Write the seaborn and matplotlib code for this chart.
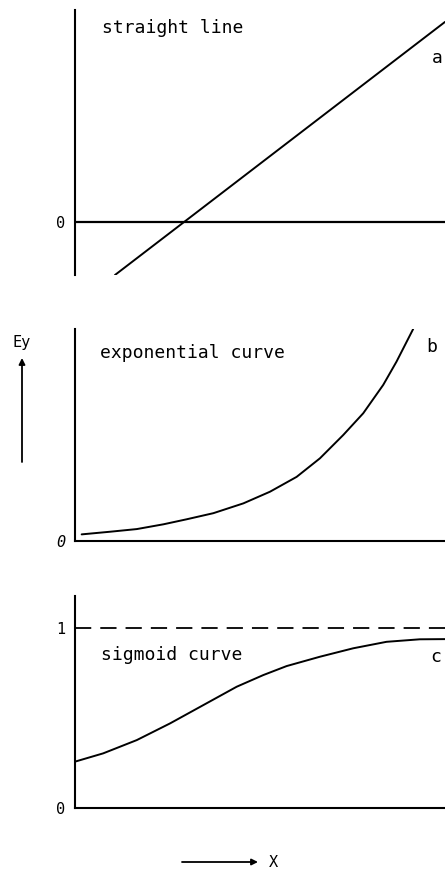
import pandas as pd
import seaborn as sns
import matplotlib
matplotlib.use("Agg")
import matplotlib.pyplot as plt

# a: straight line
line_x = [1.08, 10.0]
line_y = [-2.0, 7.55]

# b: exponential curve
exp_x = [0.18, 0.95, 1.67, 2.39, 3.02, 3.74, 4.55, 5.27, 5.99, 6.62, 7.25, 7.79, 8.33, 8.69, 9.14]
exp_y = [0.25, 0.35, 0.45, 0.63, 0.82, 1.05, 1.42, 1.86, 2.42, 3.12, 4.00, 4.82, 5.89, 6.77, 8.0]

# c: sigmoid curve
sig_x = [0.0, 0.76, 1.67, 2.57, 3.47, 4.37, 5.09, 5.72, 6.62, 7.52, 8.42, 9.32, 10.0]
sig_y = [0.258, 0.304, 0.378, 0.471, 0.573, 0.675, 0.740, 0.790, 0.842, 0.889, 0.925, 0.939, 0.940]

panel_labels = ["straight line", "exponential curve", "sigmoid curve"]
panel_letters = ["a", "b", "c"]

sns.set_style("white")
plt.rcParams["font.family"] = ["DejaVu Sans Mono"]
plt.rcParams["text.color"] = "black"
plt.rcParams["ytick.color"] = "black"
plt.rcParams["ytick.labelcolor"] = "black"

W, H = 445, 872
fig = plt.figure(figsize=(W / 100, H / 100), dpi=100)


def make_axes(top, bottom, left=75, right=445):
    return fig.add_axes([left / W, 1 - bottom / H, (right - left) / W, (bottom - top) / H])


def style_axes(ax, show_bottom):
    for side in ["top", "right"]:
        ax.spines[side].set_visible(False)
    ax.spines["bottom"].set_visible(show_bottom)
    for side in ["left", "bottom"]:
        ax.spines[side].set_linewidth(1.5)
        ax.spines[side].set_color("black")
    ax.set_xticks([])
    ax.tick_params(axis="y", length=0, pad=7, labelsize=11, labelcolor="black")
    ax.set_xlabel("")
    ax.set_ylabel("")
    ax.set_xlim(0, 10)


# Panel a
ax_a = make_axes(10, 275)
sns.lineplot(x=line_x, y=line_y, ax=ax_a, color="black", lw=1.4, estimator=None)
ax_a.axhline(0, color="black", lw=1.6)
ax_a.set_ylim(-2, 8)
style_axes(ax_a, False)
ax_a.set_yticks([0])
ax_a.set_yticklabels(["0"])
ax_a.text(0.73, 7.32, panel_labels[0], fontsize=13, va="center", ha="left")
ax_a.text(9.78, 6.19, panel_letters[0], fontsize=13, va="center", ha="center")

# Panel b
ax_b = make_axes(329, 541)
sns.lineplot(x=exp_x, y=exp_y, ax=ax_b, color="black", lw=1.4, estimator=None, sort=False)
ax_b.set_ylim(0, 8)
style_axes(ax_b, True)
ax_b.set_yticks([0])
ax_b.set_yticklabels(["0"], fontstyle="italic")
ax_b.text(0.68, 7.09, panel_labels[1], fontsize=13, va="center", ha="left")
ax_b.text(9.65, 7.32, panel_letters[1], fontsize=13, va="center", ha="center")

# Panel c
ax_c = make_axes(596, 808)
sns.lineplot(x=sig_x, y=sig_y, ax=ax_c, color="black", lw=1.4, estimator=None, sort=False)
ax_c.axhline(1, color="black", lw=1.3, linestyle=(0, (9, 5)))
ax_c.set_ylim(0, 1.18)
style_axes(ax_c, True)
ax_c.set_yticks([0, 1])
ax_c.set_yticklabels(["0", "1"])
ax_c.text(0.70, 0.851, panel_labels[2], fontsize=13, va="center", ha="left")
ax_c.text(9.76, 0.84, panel_letters[2], fontsize=13, va="center", ha="center")

# Ey with upward arrow
fig.text(22 / W, 1 - 343 / H, "Ey", fontsize=11, ha="center", va="center")
ax_b.annotate("", xy=(22, H - 358), xytext=(22, H - 462),
              xycoords="figure pixels", textcoords="figure pixels",
              arrowprops=dict(arrowstyle="-|>", color="black", lw=1.3,
                              mutation_scale=9, shrinkA=0, shrinkB=0),
              annotation_clip=False)

# X with right arrow
ax_c.annotate("", xy=(258, H - 862), xytext=(182, H - 862),
              xycoords="figure pixels", textcoords="figure pixels",
              arrowprops=dict(arrowstyle="-|>", color="black", lw=1.3,
                              mutation_scale=9, shrinkA=0, shrinkB=0),
              annotation_clip=False)
fig.text(273 / W, 1 - 862 / H, "X", fontsize=11, ha="center", va="center")

fig.savefig("out.png", dpi=100)
